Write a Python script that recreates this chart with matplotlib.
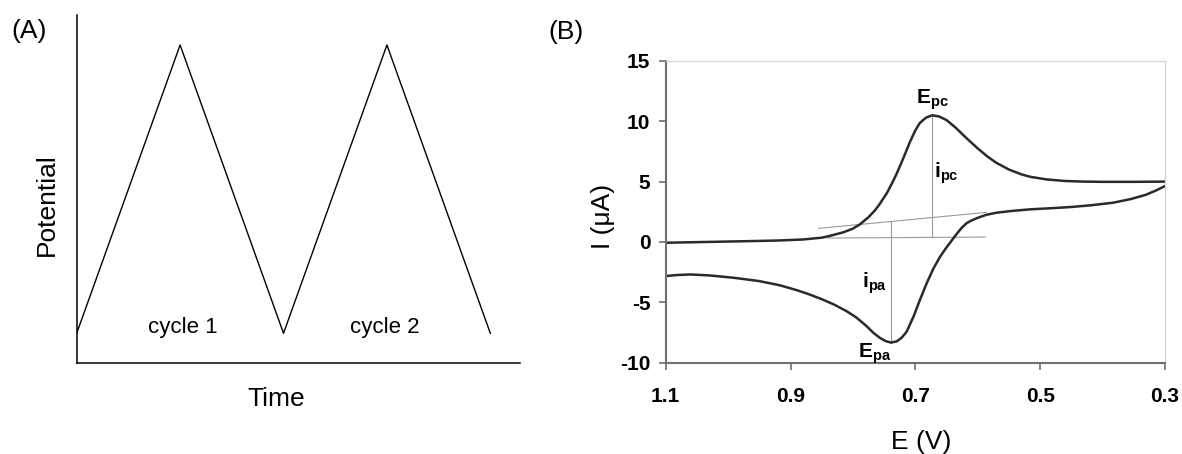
import matplotlib

matplotlib.use("Agg")
import matplotlib.pyplot as plt
import numpy as np

plt.rcParams["font.family"] = ["Liberation Sans", "DejaVu Sans"]
plt.rcParams["mathtext.fontset"] = "custom"
plt.rcParams["mathtext.rm"] = "Liberation Sans"
plt.rcParams["mathtext.bf"] = "Liberation Sans:bold"

# (A) triangular potential waveform: two full cycles
wave_time = [0, 1, 2, 3, 4]
wave_potential = [0, 1, 0, 1, 0]
cycle_labels = ["cycle 1", "cycle 2"]
cycle_label_time = [1.03, 2.98]

# (B) cyclic voltammogram, forward sweep (cathodic peak) then reverse sweep
fwd_E = [1.100, 1.050, 1.000, 0.950, 0.917, 0.880, 0.850, 0.837, 0.815, 0.800,
         0.789, 0.775, 0.765, 0.757, 0.745, 0.737, 0.730, 0.720, 0.709, 0.700,
         0.693, 0.683, 0.673, 0.662, 0.650, 0.635, 0.618, 0.600, 0.585, 0.570,
         0.550, 0.530, 0.516, 0.490, 0.460, 0.430, 0.400, 0.350, 0.300]
fwd_I = [-0.07, -0.02, 0.03, 0.08, 0.12, 0.20, 0.35, 0.50, 0.80, 1.10,
         1.45, 2.05, 2.60, 3.15, 4.10, 4.90, 5.65, 6.85, 8.25, 9.25,
         9.85, 10.30, 10.50, 10.40, 10.10, 9.45, 8.60, 7.75, 7.10, 6.55,
         6.00, 5.60, 5.40, 5.18, 5.05, 5.00, 4.98, 4.98, 5.00]
rev_E = [0.300, 0.315, 0.331, 0.355, 0.383, 0.420, 0.449, 0.480, 0.516, 0.545,
         0.570, 0.586, 0.600, 0.610, 0.618, 0.626, 0.634, 0.642, 0.650, 0.660,
         0.671, 0.682, 0.693, 0.703, 0.714, 0.722, 0.730, 0.739, 0.748, 0.757,
         0.767, 0.780, 0.795, 0.810, 0.830, 0.850, 0.870, 0.890, 0.917, 0.950,
         0.990, 1.030, 1.060, 1.080, 1.100]
rev_I = [4.63, 4.25, 3.90, 3.55, 3.25, 3.03, 2.90, 2.80, 2.70, 2.57,
         2.42, 2.25, 2.00, 1.78, 1.55, 1.15, 0.65, 0.10, -0.45, -1.20,
         -2.20, -3.45, -4.85, -6.20, -7.45, -7.95, -8.25, -8.35, -8.22, -7.95,
         -7.55, -6.90, -6.25, -5.75, -5.20, -4.75, -4.35, -4.00, -3.60, -3.25,
         -2.98, -2.78, -2.70, -2.74, -2.83]

# peak positions and the extrapolated baselines used to measure peak currents
E_pc, I_pc = 0.673, 10.50
E_pa, I_pa = 0.739, -8.35
cathodic_base_E = [0.842, 0.588]
cathodic_base_I = [0.32, 0.40]
anodic_base_E = [0.855, 0.586]
anodic_base_I = [1.12, 2.45]
I_pc_base = np.interp(E_pc, cathodic_base_E[::-1], cathodic_base_I[::-1])
I_pa_base = np.interp(E_pa, anodic_base_E[::-1], anodic_base_I[::-1])

e_ticks = [1.1, 0.9, 0.7, 0.5, 0.3]
i_ticks = [15, 10, 5, 0, -5, -10]

W, H = 1182, 454
fig = plt.figure(figsize=(W / 100, H / 100), dpi=100)

# ---- panel A ----
ax_a = fig.add_axes([76.7 / W, 1 - 362.7 / H, 443.3 / W, 347.4 / H])
ax_a.plot(wave_time, wave_potential, color="black", lw=1.0)
ax_a.set_xlim(0, 4.287)
ax_a.set_ylim(-0.102, 1.103)
ax_a.set_xticks([])
ax_a.set_yticks([])
for side in ("top", "right"):
    ax_a.spines[side].set_visible(False)
for side in ("left", "bottom"):
    ax_a.spines[side].set_linewidth(1.1)
for label, t in zip(cycle_labels, cycle_label_time):
    ax_a.text(t, 0.0, label, ha="center", va="baseline", fontsize=16)

fig.text(11.7 / W, 1 - 38 / H, "(A)", ha="left", va="baseline", fontsize=19)
fig.text(47 / W, 1 - 205 / H, "Potential", rotation=90, ha="center", va="center",
         fontsize=19)
fig.text(276 / W, 1 - 406 / H, "Time", ha="center", va="baseline", fontsize=19)

# ---- panel B ----
ax_b = fig.add_axes([665.7 / W, 1 - 362.5 / H, 499.3 / W, 301.5 / H])
ax_b.plot(fwd_E, fwd_I, color="#2a2a2a", lw=1.8, solid_capstyle="round",
          solid_joinstyle="round")
ax_b.plot(rev_E, rev_I, color="#2a2a2a", lw=1.8, solid_capstyle="round",
          solid_joinstyle="round")

guide = dict(color="#9a9a9a", lw=0.8, zorder=1)
ax_b.plot(cathodic_base_E, cathodic_base_I, **guide)
ax_b.plot(anodic_base_E, anodic_base_I, **guide)
ax_b.plot([E_pc, E_pc], [I_pc_base, I_pc], **guide)
ax_b.plot([E_pa, E_pa], [I_pa_base, I_pa], **guide)

ax_b.set_xlim(1.1, 0.3)
ax_b.set_ylim(-10, 15)
ax_b.set_xticks(e_ticks)
ax_b.set_xticklabels([f"{v:.1f}" for v in e_ticks])
ax_b.set_yticks(i_ticks)
ax_b.set_yticklabels([str(v) for v in i_ticks])
ax_b.tick_params(axis="x", length=5, width=1.2, color="#707070", pad=13,
                 labelsize=15)
ax_b.tick_params(axis="y", length=5, width=1.2, color="#707070", pad=6,
                 labelsize=15)
for lab in ax_b.get_xticklabels() + ax_b.get_yticklabels():
    lab.set_fontweight("bold")
for side in ("left", "bottom"):
    ax_b.spines[side].set_color("#707070")
    ax_b.spines[side].set_linewidth(1.5)
for side in ("top", "right"):
    ax_b.spines[side].set_color("#d4d4d4")
    ax_b.spines[side].set_linewidth(0.9)

ax_b.text(E_pc, 11.5, r"$\mathbf{E}_{\mathbf{pc}}$", ha="center", va="baseline",
          fontsize=15)
ax_b.text(0.670, 5.37, r"$\mathbf{i}_{\mathbf{pc}}$", ha="left", va="baseline",
          fontsize=15)
ax_b.text(0.745, -3.77, r"$\mathbf{i}_{\mathbf{pa}}$", ha="right", va="baseline",
          fontsize=15)
ax_b.text(0.766, -9.55, r"$\mathbf{E}_{\mathbf{pa}}$", ha="center", va="baseline",
          fontsize=15)

fig.text(548 / W, 1 - 39 / H, "(B)", ha="left", va="baseline", fontsize=19)
fig.text(603 / W, 1 - 216 / H, "I (\u03bcA)", rotation=90, ha="center",
         va="center", fontsize=19)
fig.text(921 / W, 1 - 449 / H, "E (V)", ha="center", va="baseline", fontsize=19)

fig.savefig("out.png", dpi=100)
